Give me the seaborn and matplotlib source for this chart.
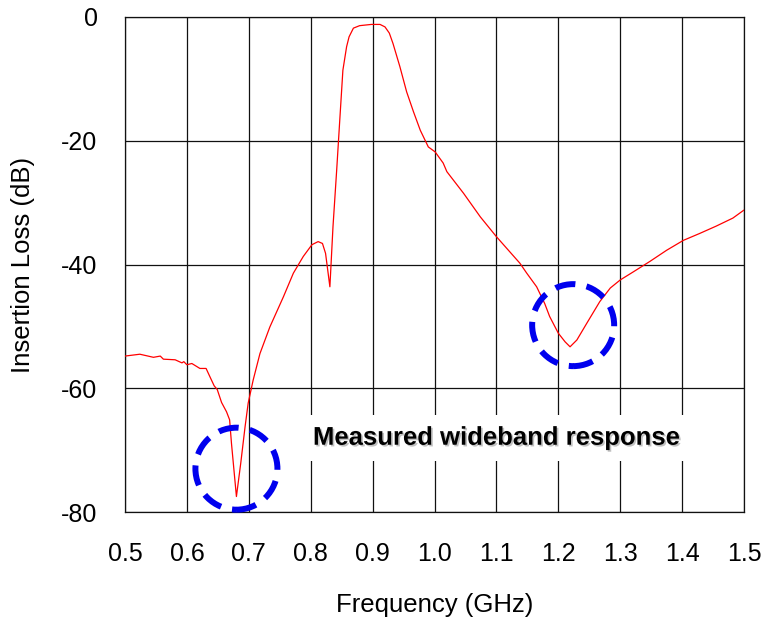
import matplotlib
matplotlib.use("Agg")
import matplotlib.pyplot as plt
import matplotlib.patheffects as pe
from matplotlib.patches import Ellipse
import seaborn as sns
import pandas as pd

freq_ghz = [0.500, 0.524, 0.546, 0.557, 0.562, 0.581, 0.592, 0.595, 0.600, 0.608,
            0.621, 0.631, 0.637, 0.644, 0.649, 0.656, 0.664, 0.669, 0.672, 0.680,
            0.687, 0.694, 0.699, 0.707, 0.718, 0.734, 0.756, 0.772, 0.788, 0.802,
            0.812, 0.819, 0.824, 0.831, 0.836, 0.842, 0.847, 0.852, 0.858, 0.862,
            0.869, 0.879, 0.898, 0.912, 0.920, 0.927, 0.933, 0.944, 0.955, 0.966,
            0.977, 0.990, 1.001, 1.014, 1.020, 1.047, 1.074, 1.100, 1.138, 1.149,
            1.165, 1.178, 1.186, 1.200, 1.211, 1.219, 1.230, 1.246, 1.267, 1.284,
            1.300, 1.321, 1.348, 1.375, 1.402, 1.428, 1.455, 1.482, 1.500]
loss_db = [-54.8, -54.5, -55.0, -54.8, -55.3, -55.4, -55.9, -55.7, -56.2, -56.0,
           -56.8, -56.8, -58.1, -59.6, -60.2, -62.3, -63.8, -65.1, -68.9, -77.5,
           -72.1, -66.2, -62.4, -58.7, -54.4, -50.1, -45.2, -41.4, -38.7, -36.8,
           -36.3, -36.6, -38.2, -43.6, -33.9, -24.7, -16.6, -8.6, -4.8, -3.2,
           -1.8, -1.4, -1.2, -1.2, -1.6, -2.6, -4.3, -8.0, -12.1, -15.3,
           -18.3, -21.0, -21.8, -23.6, -25.0, -28.5, -32.3, -35.5, -39.8, -41.4,
           -43.6, -46.3, -48.4, -51.1, -52.5, -53.3, -52.2, -49.5, -46.0, -43.8,
           -42.5, -41.2, -39.5, -37.7, -36.1, -35.0, -33.8, -32.5, -31.2]

x_ticks = [0.5, 0.6, 0.7, 0.8, 0.9, 1.0, 1.1, 1.2, 1.3, 1.4, 1.5]
x_tick_labels = ["0.5", "0.6", "0.7", "0.8", "0.9", "1.0", "1.1", "1.2", "1.3", "1.4", "1.5"]
y_ticks = [-80, -60, -40, -20, 0]
y_tick_labels = ["-80", "-60", "-40", "-20", "0"]

# highlighted notches (centre freq, centre dB)
circle_centres = [(0.680, -73.0), (1.224, -49.8)]
annotation = "Measured wideband response"

sns.set_style("white")
plt.rcParams['font.family'] = ['Liberation Sans', 'DejaVu Sans']
plt.rcParams['text.color'] = 'black'
plt.rcParams['axes.labelcolor'] = 'black'
plt.rcParams['xtick.color'] = 'black'
plt.rcParams['ytick.color'] = 'black'

fig = plt.figure(figsize=(7.63, 6.2), dpi=100)
ax = fig.add_axes([125/763, 1-512/620, (744-125)/763, (512-17)/620])

df = pd.DataFrame({"f": freq_ghz, "L": loss_db})
sns.lineplot(data=df, x="f", y="L", ax=ax, color="red", linewidth=0.9,
             estimator=None, sort=False, zorder=3)

ax.set_xlim(0.5, 1.5)
ax.set_ylim(-80, 0)
ax.set_xticks(x_ticks)
ax.set_xticklabels(x_tick_labels)
ax.set_yticks(y_ticks)
ax.set_yticklabels(y_tick_labels)
ax.grid(True, color="#111111", linewidth=0.9)
ax.set_axisbelow(True)
for s in ax.spines.values():
    s.set_color("#111111")
    s.set_linewidth(0.9)
ax.tick_params(axis="both", direction="out", length=10.8, width=0.9,
               color="#111111", labelcolor="black", labelsize=18)
ax.tick_params(axis="x", pad=11)
ax.tick_params(axis="y", pad=9)
ax.set_xlabel("Frequency (GHz)", fontsize=18.5, color="black")
ax.set_ylabel("Insertion Loss (dB)", fontsize=18.5, color="black")
ax.xaxis.set_label_coords(0.5, -(605-512)/495, transform=ax.transAxes)
ax.yaxis.set_label_coords(-(125-23)/619, 0.5, transform=ax.transAxes)
ax.xaxis.label.set_va("center")
ax.yaxis.label.set_va("center")

w_data = 82/619
h_data = 82/6.1875
for cx, cy in circle_centres:
    e = Ellipse((cx, cy), w_data, h_data, fill=False, edgecolor="#0000ee",
                linewidth=4.3, linestyle=(0, (3.4, 1.9)), zorder=4, clip_on=False)
    ax.add_patch(e)

ax.text(1.101, -68.0, annotation, ha="center", va="center", fontsize=18.5,
        fontweight="bold", color="black", zorder=5,
        bbox=dict(facecolor="white", edgecolor="none", pad=8),
        path_effects=[pe.withSimplePatchShadow(offset=(1.2, -1.2), shadow_rgbFace="#999999", alpha=0.6)])

fig.savefig("out.png", dpi=100)
